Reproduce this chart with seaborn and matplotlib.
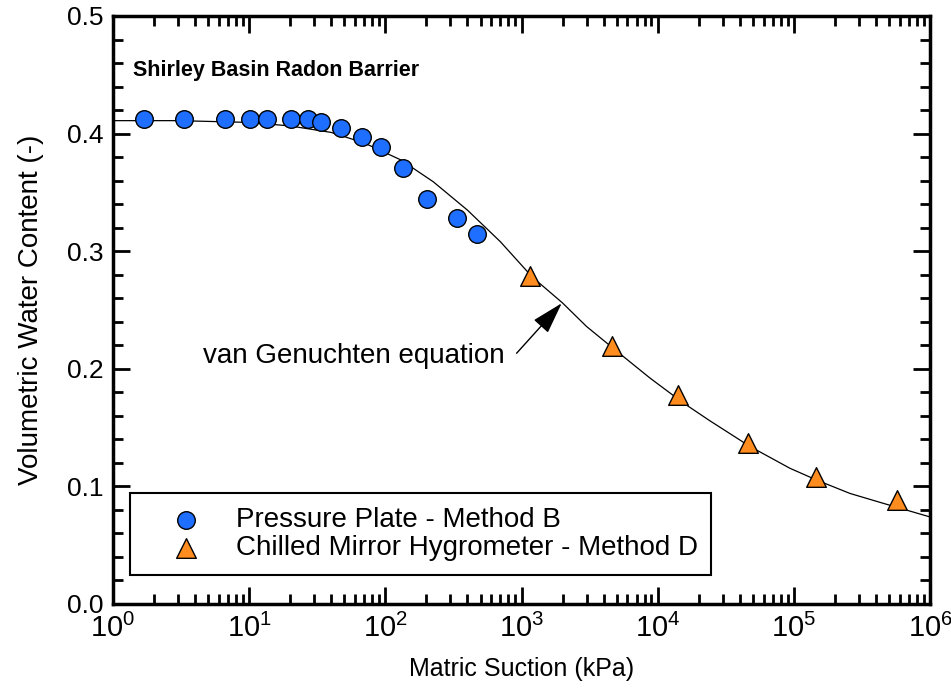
import numpy as np
import pandas as pd
import seaborn as sns
import matplotlib.pyplot as plt
from matplotlib.ticker import LogLocator, MultipleLocator, FuncFormatter, NullFormatter

# pressure plate - method B
pp_suction = [1.7, 3.3, 6.6, 10.1, 13.5, 20.3, 27, 33.7, 47, 67, 93, 135, 202, 336, 470]
pp_theta = [0.412, 0.412, 0.412, 0.412, 0.412, 0.412, 0.412, 0.410, 0.405, 0.397, 0.389, 0.371, 0.344, 0.328, 0.315]

# chilled mirror hygrometer - method D
cm_suction = [1150, 4610, 14200, 46200, 145000, 568000]
cm_theta = [0.279, 0.219, 0.178, 0.137, 0.108, 0.088]

# van Genuchten fit
vg_suction = [1, 3, 10, 20, 40, 70, 130, 225, 400, 700, 1200, 2000, 3000, 5000,
              8800, 15400, 24000, 47500, 93500, 146700, 258000, 453000, 1000000]
vg_theta = [0.411, 0.411, 0.4095, 0.4065, 0.401, 0.392, 0.3776, 0.359, 0.335, 0.308,
            0.278, 0.256, 0.236, 0.215, 0.192, 0.171, 0.156, 0.134, 0.1154, 0.1054,
            0.094, 0.0856, 0.074]


def plot():
    sns.set_style("ticks")
    plt.rcParams["font.family"] = ["Liberation Sans", "DejaVu Sans"]
    plt.rcParams["mathtext.fontset"] = "custom"
    plt.rcParams["mathtext.rm"] = "Liberation Sans"
    plt.rcParams["mathtext.it"] = "Liberation Sans"
    for k in ["text.color", "axes.labelcolor", "xtick.color", "ytick.color"]:
        plt.rcParams[k] = "black"

    pp = pd.DataFrame({"suction": pp_suction, "theta": pp_theta})
    cm = pd.DataFrame({"suction": cm_suction, "theta": cm_theta})
    vg = pd.DataFrame({"suction": vg_suction, "theta": vg_theta})

    fig = plt.figure(figsize=(9.51, 6.92), dpi=100)
    ax = fig.add_axes([0.1188, 0.1272, 0.8592, 0.8497])

    sns.lineplot(ax=ax, data=vg, x="suction", y="theta", color="black", lw=0.9,
                 zorder=2, legend=False)
    sns.scatterplot(ax=ax, data=pp, x="suction", y="theta", marker="o", s=160,
                    color="#1E6EFF", edgecolor="black", linewidth=1.0, zorder=3,
                    label="Pressure Plate - Method B")
    sns.scatterplot(ax=ax, data=cm, x="suction", y="theta", marker="^", s=200,
                    color="#FF8C1E", edgecolor="black", linewidth=1.0, zorder=3,
                    label="Chilled Mirror Hygrometer - Method D")

    ax.set_xscale("log")
    ax.set_xlim(1, 1e6)
    ax.set_ylim(0, 0.5)

    ax.xaxis.set_major_locator(LogLocator(base=10, numticks=10))
    ax.xaxis.set_minor_locator(LogLocator(base=10, subs=np.arange(2, 10), numticks=20))
    ax.xaxis.set_minor_formatter(NullFormatter())
    ax.xaxis.set_major_formatter(FuncFormatter(lambda v, p: r"$10^{%d}$" % round(np.log10(v))))
    ax.yaxis.set_major_locator(MultipleLocator(0.1))
    ax.yaxis.set_minor_locator(MultipleLocator(0.02))
    ax.yaxis.set_major_formatter(FuncFormatter(lambda v, p: f"{v:.1f}"))

    ax.tick_params(which="both", direction="in", top=True, right=True, width=2, color="black")
    ax.tick_params(which="major", length=12)
    ax.tick_params(which="minor", length=7)
    ax.tick_params(axis="y", labelsize=19, pad=7)
    ax.tick_params(axis="x", labelsize=21, pad=7)
    for s in ax.spines.values():
        s.set_linewidth(2.5)
        s.set_color("black")

    ax.set_xlabel("Matric Suction (kPa)", fontsize=18, labelpad=10)
    ax.set_ylabel("Volumetric Water Content (-)", fontsize=20, labelpad=16)

    ax.text(0.0245, 0.898, "Shirley Basin Radon Barrier", transform=ax.transAxes,
            fontsize=15.5, fontweight="bold", va="baseline", ha="left")

    ax.text(755, 0.205, "van Genuchten equation", fontsize=20, ha="right", va="baseline")
    ax.annotate("", xy=(1972, 0.2557), xytext=(920, 0.2132),
                arrowprops=dict(arrowstyle="-|>,head_length=1.0,head_width=0.3",
                                mutation_scale=20, color="black", lw=1.0,
                                shrinkA=0, shrinkB=0))

    leg = ax.legend(loc="lower left", bbox_to_anchor=(0.0208, 0.0493), fontsize=20,
                    frameon=True, fancybox=False, edgecolor="black", framealpha=1,
                    handletextpad=0.3, borderpad=0.5, labelspacing=0.08,
                    handlelength=3.0, borderaxespad=0)
    leg.get_frame().set_linewidth(1.5)

    fig.savefig("out.png", dpi=100)


if __name__ == '__main__':
    plot()
